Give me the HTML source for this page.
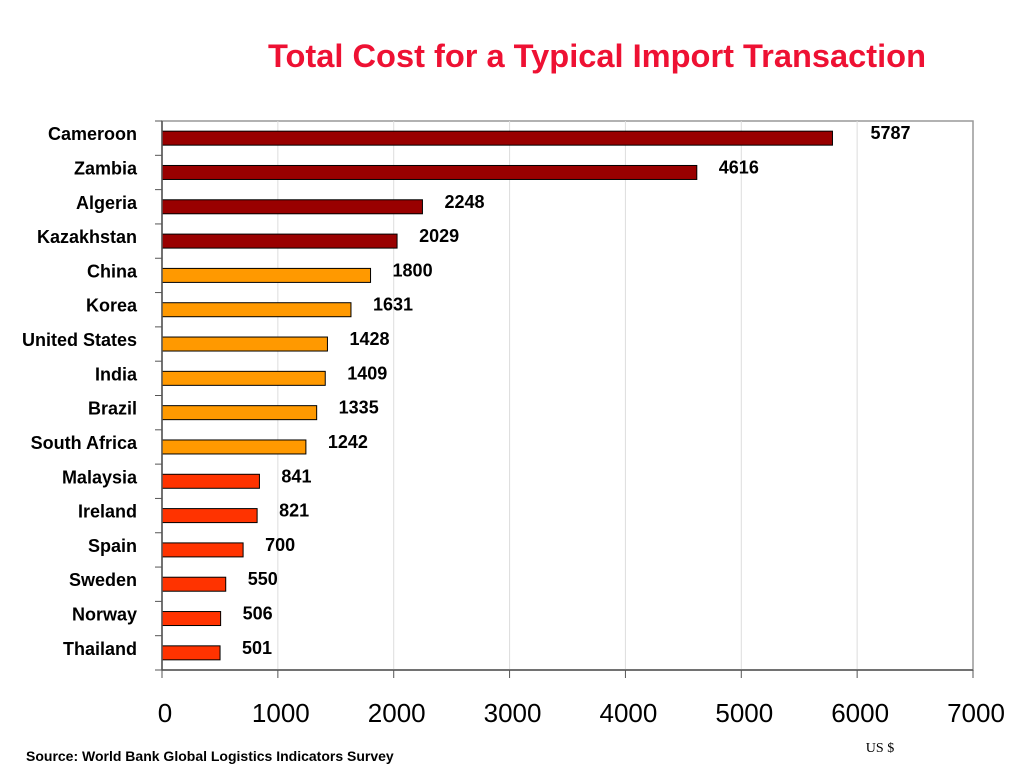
<!DOCTYPE html>
<html><head><meta charset="utf-8"><style>
body{margin:0;background:#fff;}
svg text{font-family:"Liberation Sans",Arial,sans-serif;}
</style></head><body>
<svg width="1024" height="768" xmlns="http://www.w3.org/2000/svg">
<text x="597" y="67" text-anchor="middle" font-size="32" font-weight="bold" fill="#ee1133" textLength="658" lengthAdjust="spacingAndGlyphs">Total Cost for a Typical Import Transaction</text>
<g id="grid"></g><g id="bars"></g><g id="labels"></g><g id="axes"></g>
<text x="26" y="761" font-size="14" font-weight="bold">Source: World Bank Global Logistics Indicators Survey</text>
<text x="880" y="752" text-anchor="middle" font-size="14" style="font-family:'Liberation Serif',serif">US $</text>
</svg>
<script>
const categories=["Cameroon","Zambia","Algeria","Kazakhstan","China","Korea","United States","India","Brazil","South Africa","Malaysia","Ireland","Spain","Sweden","Norway","Thailand"];
const values=[5787,4616,2248,2029,1800,1631,1428,1409,1335,1242,841,821,700,550,506,501];
const groups=["high","high","high","high","mid","mid","mid","mid","mid","mid","low","low","low","low","low","low"];
const xTicks=[0,1000,2000,3000,4000,5000,6000,7000];
const colors={high:"#990000",mid:"#ff9900",low:"#ff3300"};
const L=162,R=973,T=121,B=670,XMAX=7000;
const ns="http://www.w3.org/2000/svg";
const x=v=>L+(R-L)*v/XMAX;
const band=(B-T)/categories.length;
const yc=i=>T+band*(i+0.5);
function mk(tag,attrs,parent,text){const e=document.createElementNS(ns,tag);for(const k in attrs)e.setAttribute(k,attrs[k]);if(text!==undefined)e.textContent=text;document.getElementById(parent).appendChild(e);return e;}
const plot=mk("rect",{x:L,y:T,width:R-L,height:B-T,fill:"none",stroke:"#999","stroke-width":1.5},"grid");


xTicks.forEach(t=>{
  if(t>0&&t<XMAX){const g=mk("line",{x1:x(t),x2:x(t),y1:T,y2:B,stroke:"#ddd"},"grid");
  
  }
  const tk=mk("line",{x1:x(t),x2:x(t),y1:B,y2:B+8,stroke:"#555"},"axes");
  
  
  const tl=mk("text",{x:x(t)+3,y:B+52,"text-anchor":"middle","font-size":26},"axes",String(t));
  
  
});
for(let i=0;i<=categories.length;i++){
  const tk=mk("line",{x1:L-7,x2:L,y1:T+band*i,y2:T+band*i,stroke:"#555"},"axes");
  
  
}
const ax=mk("line",{x1:L,x2:L,y1:T,y2:B,stroke:"#555","stroke-width":1.5},"axes");


const bx=mk("line",{x1:L,x2:R,y1:B,y2:B,stroke:"#555","stroke-width":1.5},"axes");


categories.forEach((c,i)=>{
  const b=mk("rect",{x:L,y:yc(i)-7,width:x(values[i])-L,height:14,fill:colors[groups[i]],stroke:"#000","stroke-width":1},"bars");
  
  
  const v=mk("text",{x:x(values[i])+22+(i===0?16:0),y:yc(i)+1,"font-size":18,"font-weight":"bold"},"labels",String(values[i]));
  
  
  const cl=mk("text",{x:137,y:yc(i)+2,"text-anchor":"end","font-size":18,"font-weight":"bold"},"labels",c);
  
  
});
</script>
</body></html>
